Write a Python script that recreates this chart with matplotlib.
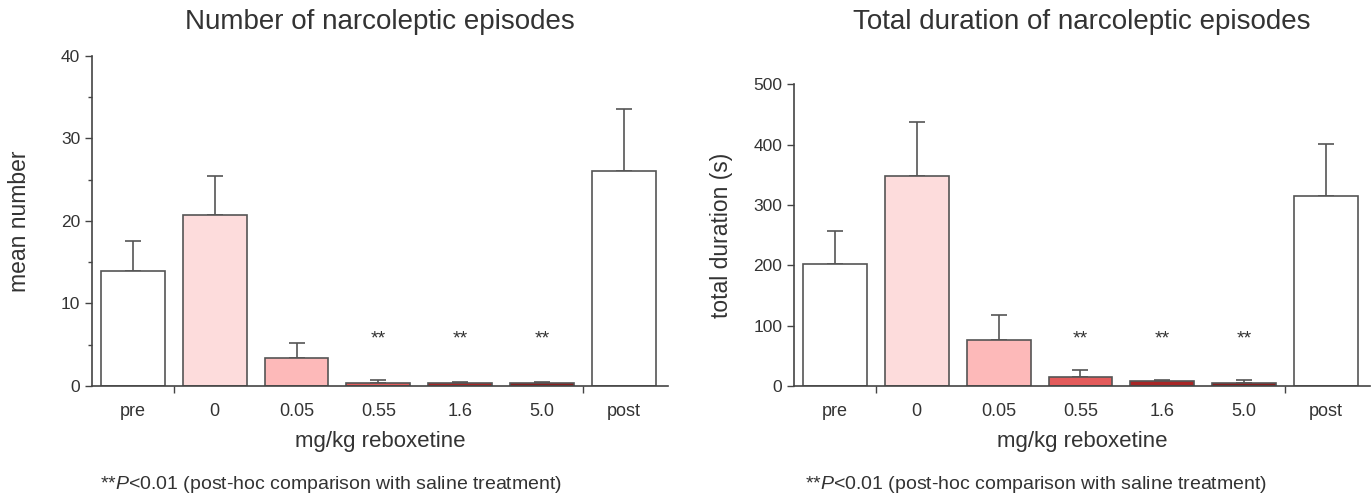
import matplotlib.pyplot as plt
from matplotlib.ticker import MultipleLocator

plt.rcParams['font.family'] = ['Liberation Sans', 'DejaVu Sans']
plt.rcParams['mathtext.fontset'] = 'custom'
plt.rcParams['mathtext.it'] = 'Liberation Sans:italic'
plt.rcParams['mathtext.rm'] = 'Liberation Sans'

# data
groups = ['pre', '0', '0.05', '0.55', '1.6', '5.0', 'post']
bar_colors = ['#ffffff', '#fddcdc', '#fdb9b9', '#e35b5b', '#a82626', '#8c1f1f', '#ffffff']

count_mean = [13.9, 20.7, 3.4, 0.4, 0.3, 0.3, 26.0]
count_err = [3.7, 4.7, 1.85, 0.3, 0.2, 0.2, 7.5]

dur_mean = [202, 348, 76, 15, 8, 5.5, 315]
dur_err = [54, 90, 42, 11, 2.5, 5, 86]

signif = [False, False, False, True, True, True, False]

edge = '#555555'
axis_col = '#444444'
text_col = '#333333'

fig = plt.figure(figsize=(13.72, 4.98), dpi=100)
ax1 = fig.add_axes([0.067, 0.225, 0.42, 0.663])
ax2 = fig.add_axes([0.5787, 0.225, 0.42, 0.606])


def draw_panel(ax, means, errs, ylim, major, minor, ylabel, star_y):
    x = range(len(groups))
    ax.bar(x, means, width=0.78, color=bar_colors, edgecolor=edge, linewidth=1.2, zorder=2)
    ax.errorbar(x, means, yerr=[[0] * len(errs), errs], fmt='none', ecolor=edge,
                elinewidth=1.2, capsize=5.5, capthick=1.2, zorder=1)
    for i, s in enumerate(signif):
        if s:
            ax.text(i, star_y, '**', ha='center', va='center', fontsize=14, color=text_col)
    ax.set_xlim(-0.5, 6.54)
    ax.set_ylim(*ylim)
    ax.spines['top'].set_visible(False)
    ax.spines['right'].set_visible(False)
    ax.spines['left'].set_color(axis_col)
    ax.spines['bottom'].set_color(axis_col)
    ax.spines['left'].set_linewidth(1.2)
    ax.spines['bottom'].set_linewidth(1.2)
    ax.yaxis.set_major_locator(MultipleLocator(major))
    if minor:
        ax.yaxis.set_minor_locator(MultipleLocator(minor))
    ax.tick_params(axis='y', which='major', length=5, width=1, color=axis_col,
                   labelsize=12.5, labelcolor=text_col)
    ax.tick_params(axis='y', which='minor', length=3, width=1, color=axis_col)
    # x: labels without ticks, small separator ticks
    ax.set_xticks(list(x))
    ax.set_xticklabels(groups, fontsize=13, color=text_col)
    ax.tick_params(axis='x', which='major', length=0, pad=12)
    ax.set_xticks([0.5, 5.5], minor=True)
    ax.tick_params(axis='x', which='minor', length=5, width=1, color=axis_col)
    ax.set_ylabel(ylabel, fontsize=16.5, color=text_col)
    ax.yaxis.set_label_coords(-0.105, 0.5)
    ax.set_xlabel('mg/kg reboxetine', fontsize=16, color=text_col, labelpad=8)


draw_panel(ax1, count_mean, count_err, (0, 40), 10, 5, 'mean number', 5.7)
draw_panel(ax2, dur_mean, dur_err, (0, 500), 100, None, 'total duration (s)', 78)

fig.text(380 / 1372, 1 - 22 / 498, 'Number of narcoleptic episodes', ha='center', va='center',
         fontsize=20, color=text_col)
fig.text(1082 / 1372, 1 - 22 / 498, 'Total duration of narcoleptic episodes', ha='center',
         va='center', fontsize=20, color=text_col)

note = r'**$P$<0.01 (post-hoc comparison with saline treatment)'
fig.text(100 / 1372, 1 - 484 / 498, note, ha='left', va='center', fontsize=14,
         color=text_col)
fig.text(805 / 1372, 1 - 484 / 498, note, ha='left', va='center', fontsize=14,
         color=text_col)

fig.savefig('out.png', dpi=100)
